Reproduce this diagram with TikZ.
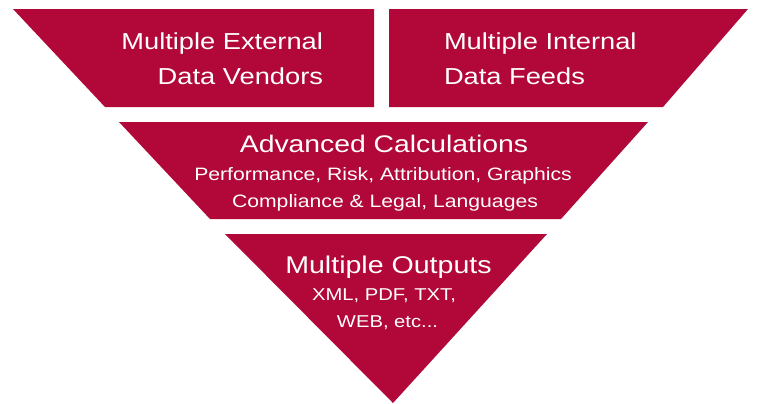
\documentclass[tikz,border=0pt]{standalone}
\usepackage{fontspec}
\setmainfont{Liberation Sans}
\usepackage{graphicx}
\definecolor{crimson}{RGB}{177,8,57}
\newcommand{\widetxt}[1]{\scalebox{1.18}[1]{#1}}
\begin{document}
\begin{tikzpicture}[x=1bp,y=-1bp,
  band/.style={fill=crimson,draw=none},
  lbl/.style={text=white,inner sep=0pt,outer sep=0pt},
  bigtxt/.style={lbl,font=\fontsize{23.2}{28}\selectfont},
  midtxt/.style={lbl,font=\fontsize{24.1}{28}\selectfont},
  subtxt/.style={lbl,font=\fontsize{18}{22}\selectfont},
  outtxt/.style={lbl,font=\fontsize{24.3}{28}\selectfont},
  osubtxt/.style={lbl,font=\fontsize{17.2}{22}\selectfont}]
\useasboundingbox (0,0) rectangle (757,403);
% shapes
\fill[band] (13,9) -- (374,9) -- (374,107) -- (105,107) -- cycle;
\fill[band] (389,9) -- (748,9) -- (663,107) -- (389,107) -- cycle;
\fill[band] (119,122) -- (648,122) -- (561,219) -- (210,219) -- cycle;
\fill[band] (225,234) -- (547,234) -- (393,403) -- cycle;
% texts
\node[bigtxt,anchor=base east] (e1) at (323,49) {\widetxt{Multiple External}};
\node[bigtxt,anchor=base east] (e2) at (323,84) {\widetxt{Data Vendors}};
\node[bigtxt,anchor=base west] (i1) at (444,49) {\widetxt{Multiple Internal}};
\node[bigtxt,anchor=base west] (i2) at (444,84) {\widetxt{Data Feeds}};
\node[midtxt,anchor=base] (c1) at (384,152) {\widetxt{Advanced Calculations}};
\node[subtxt,anchor=base] (c2) at (383,180) {\widetxt{Performance, Risk, Attribution, Graphics}};
\node[subtxt,anchor=base] (c3) at (385,207) {\widetxt{Compliance \& Legal, Languages}};
\node[outtxt,anchor=base] (o1) at (388.5,273) {\widetxt{Multiple Outputs}};
\node[osubtxt,anchor=base] (o2) at (384,300) {\widetxt{XML, PDF, TXT,}};
\node[osubtxt,anchor=base] (o3) at (387.5,327) {\widetxt{WEB, etc...}};
\end{tikzpicture}
\end{document}
